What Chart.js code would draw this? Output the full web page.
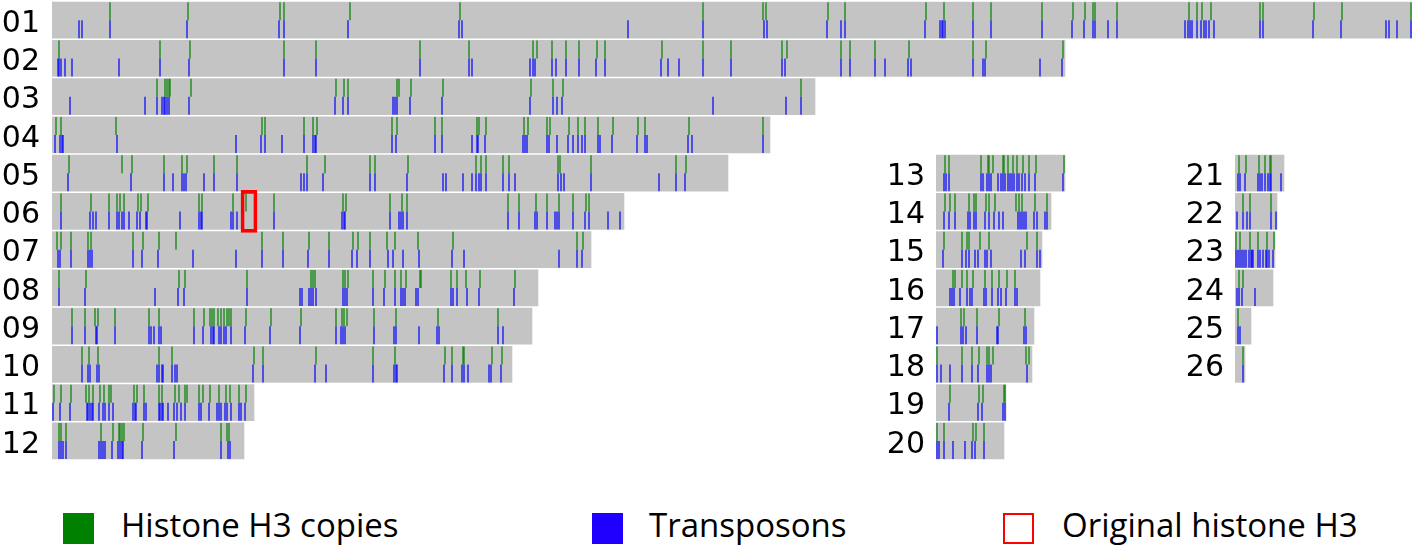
<!DOCTYPE html>
<html><head><meta charset="utf-8">
<script src="https://cdn.jsdelivr.net/npm/chart.js@4.4.1/dist/chart.umd.min.js"></script>
<style>
html,body{margin:0;padding:0;background:#fff;}
#wrap{position:relative;width:1418px;height:550px;overflow:hidden;}
canvas{position:absolute;top:0;}
.sw{position:absolute;top:513px;width:31px;height:31px;box-sizing:border-box;}
.lt{position:absolute;top:507px;height:36px;line-height:36px;font-family:'Open Sans',sans-serif;font-size:33px;color:#000;white-space:nowrap;}
</style></head><body>
<div id="wrap">
  <canvas id="col1" width="1418" height="461" style="left:0px"></canvas>
  <canvas id="col2" width="196" height="461" style="left:880px"></canvas>
  <canvas id="col3" width="115" height="461" style="left:1180px"></canvas>
  <div class="sw" style="left:63px;background:#008000"></div>
  <div class="lt" style="left:121px">Histone H3 copies</div>
  <div class="sw" style="left:592px;background:#1f00ff"></div>
  <div class="lt" style="left:649px">Transposons</div>
  <div class="sw" style="left:1003px;border:2.5px solid #ff0000;background:#fff"></div>
  <div class="lt" style="left:1062px">Original histone H3</div>
</div>
<script>
// ---------- DATA (positions in Mb along each chromosome) ----------
const chromosomes = ['01','02','03','04','05','06','07','08','09','10','11','12','13','14','15','16','17','18','19','20','21','22','23','24','25','26'];
const lengthsMb = [136.0,101.3,76.3,71.8,67.6,57.2,53.9,48.6,48.0,46.0,20.2,19.2,12.9,11.5,10.6,10.4,9.8,9.6,7.0,6.8,4.9,4.2,4.0,3.8,1.6,1.0];

const h3_01 = [5.8,13.6,22.8,23.2,29.8,40.8,65.1,71.1,71.4,77.6,79.3,87.4,89.2,92.1,93.9,99.0,102.1,103.3,104.1,104.3,106.5,113.7,114.5,115.0,115.9,120.8,121.1,126.2,129.0,135.9];
const tp_01 = [2.7,3.0,5.8,13.5,22.7,23.2,29.6,40.7,41.0,57.6,65.1,71.2,71.5,77.5,78.9,79.3,87.3,88.8,89.0,89.1,89.3,92.1,93.9,99.0,102.0,103.2,104.1,104.3,105.6,106.5,113.3,113.6,113.8,114.0,114.5,114.9,115.2,115.4,115.7,116.2,120.8,121.1,126.1,128.9,133.4,133.7,134.5,135.9];
const h3_02 = [0.7,10.8,13.8,23.2,26.4,36.8,41.7,48.1,48.5,50.0,51.4,52.7,54.5,55.3,61.0,65.1,67.9,73.0,73.5,78.9,79.8,82.3,85.7,92.1,93.4,101.1];
const tp_02 = [0.6,0.7,0.9,1.3,2.0,6.7,10.8,13.7,23.2,26.4,36.8,41.7,42.0,47.8,48.1,48.3,50.0,50.4,51.4,52.7,54.4,55.3,60.9,61.6,62.7,65.1,67.9,73.0,73.3,78.9,79.8,82.3,83.3,85.6,85.9,92.1,93.1,93.3,98.8,101.0];
const h3_03 = [10.5,11.3,11.5,11.7,11.8,13.9,28.4,29.2,29.6,34.5,34.7,35.9,39.1,47.9,50.1,51.1,74.9];
const tp_03 = [1.8,9.3,10.5,11.0,11.2,11.3,11.5,11.7,13.7,28.3,29.1,29.6,34.1,34.3,34.5,35.8,39.0,47.8,50.1,50.5,51.0,66.1,73.4,74.9];
const h3_04 = [0.4,0.9,6.4,21.0,21.3,25.2,26.1,26.5,34.0,34.5,38.3,39.0,42.5,42.7,43.4,47.2,47.6,49.5,49.8,51.7,52.6,53.3,54.6,56.1,58.6,59.3,63.7,71.1];
const tp_04 = [0.3,0.8,1.0,1.1,6.5,18.4,20.9,21.3,23.0,25.2,26.1,26.3,26.4,34.0,34.4,38.3,39.0,42.0,42.5,42.6,43.3,47.1,47.3,47.5,49.5,49.7,50.5,51.6,52.1,52.6,53.0,53.3,54.6,54.8,56.0,58.5,59.3,59.5,63.6,64.0,71.1];
const h3_05 = [1.7,7.0,8.0,11.2,13.0,13.5,16.2,18.5,25.5,27.3,31.8,32.3,35.6,42.4,42.9,43.4,45.1,45.7,50.6,50.8,53.9,62.4,63.4];
const tp_05 = [1.6,7.9,11.2,12.1,13.0,13.2,13.4,15.2,16.2,18.5,24.9,25.2,25.5,27.1,31.8,32.3,35.5,39.1,39.4,41.1,42.0,42.4,42.7,42.9,43.4,45.1,45.7,46.3,50.6,50.9,51.2,53.9,60.7,62.4,63.3];
const h3_06 = [0.9,3.9,5.7,6.5,6.8,7.2,8.6,8.9,9.6,14.7,15.0,18.1,19.4,22.2,29.1,29.4,33.8,35.0,35.5,45.6,46.7,48.4,49.5,50.7,52.1,53.4,53.7];
const tp_06 = [0.9,3.8,4.1,4.4,5.7,6.5,6.7,7.0,7.2,7.7,8.5,8.8,9.4,9.5,12.8,14.7,14.9,15.0,17.9,18.1,18.5,22.2,29.0,29.2,29.3,33.8,34.7,34.9,35.1,35.5,45.6,46.7,48.3,48.5,49.5,50.3,50.5,50.7,52.1,53.3,53.7,55.6,56.8];
const h3_07 = [0.5,0.9,1.9,3.6,3.9,8.1,9.1,10.7,12.4,21.0,23.1,25.7,27.7,30.1,30.6,31.8,33.5,34.3,36.6,40.1,52.5,53.1];
const tp_07 = [0.6,0.8,1.9,3.6,3.8,4.0,8.1,9.0,10.6,14.1,18.4,21.0,23.1,25.6,27.7,30.0,30.5,31.8,33.6,34.1,35.1,36.7,40.0,41.2,50.7,52.5,53.0];
const h3_08 = [0.7,3.4,12.7,13.3,19.5,25.9,26.1,26.3,29.1,29.3,29.6,32.1,33.3,34.3,34.9,35.4,36.8,36.9,39.9,40.5,41.4,42.8,46.3];
const tp_08 = [0.7,3.3,10.3,12.6,13.2,19.5,24.8,25.0,25.7,25.9,26.1,26.4,29.1,29.3,29.5,32.1,33.2,34.3,34.9,35.1,35.3,36.4,36.6,39.9,40.1,40.5,41.5,42.7,46.2];
const h3_09 = [2.0,3.3,4.3,4.6,6.3,9.7,10.7,14.2,15.2,15.8,16.0,16.2,16.6,16.9,17.2,17.5,17.7,17.9,19.4,21.9,24.9,28.4,29.0,29.2,29.5,32.2,34.4,38.6,44.6];
const tp_09 = [2.0,3.3,4.4,4.5,6.3,9.7,9.9,10.2,10.7,10.9,14.2,15.1,15.9,16.1,16.2,16.7,16.9,17.2,17.4,17.9,19.3,21.8,24.8,28.4,28.9,29.1,29.3,32.2,34.2,34.4,36.7,38.5,38.7,44.6,45.1];
const h3_10 = [3.0,3.7,4.6,10.7,12.0,20.2,21.1,26.4,32.1,34.3,39.3,40.0,41.1,41.2,44.0,45.0];
const tp_10 = [3.0,3.6,3.8,4.5,4.7,10.5,10.7,11.0,11.1,12.0,12.3,12.5,20.1,21.1,26.3,27.4,32.1,34.2,34.4,34.5,39.2,40.0,41.0,41.2,41.6,43.7,43.9,44.9];
const h3_11 = [0.2,0.9,1.9,3.4,3.7,4.1,4.8,5.2,5.7,5.9,8.2,8.5,9.2,10.7,11.0,12.3,12.7,13.3,13.5,14.7,15.1,15.8,16.7,17.4,17.8,18.7,19.4];
const tp_11 = [0.1,0.8,1.8,3.5,3.6,3.8,4.0,4.1,4.7,5.1,5.3,5.7,6.1,8.1,8.3,8.4,9.2,9.4,10.7,10.8,11.0,11.1,11.6,12.2,12.5,12.9,13.3,14.7,14.9,15.7,16.5,16.7,16.9,17.3,17.5,17.9,18.7,18.9,19.3];
const h3_12 = [0.7,0.9,1.4,4.9,6.1,6.7,6.8,7.0,7.2,9.1,12.4,16.9,17.5,17.7];
const tp_12 = [0.7,0.9,1.1,1.4,4.7,4.9,5.1,5.3,6.0,6.6,6.8,7.0,7.1,9.0,12.2,16.9,17.6,17.8];
const h3_13 = [0.9,1.3,4.5,5.2,5.3,5.7,6.7,6.8,7.2,7.7,8.1,8.7,9.3,10.0,12.8];
const tp_13 = [0.8,1.0,1.3,4.5,4.7,5.1,5.3,5.5,6.2,6.5,6.7,6.9,7.2,7.4,7.6,7.8,8.1,8.3,8.6,8.9,9.3,9.9,12.7];
const h3_14 = [0.9,1.4,1.9,3.3,3.8,4.0,5.0,5.3,5.9,8.0,8.3,8.6,9.9,11.1];
const tp_14 = [0.8,1.3,1.9,3.2,3.4,3.8,4.0,4.9,5.3,5.8,6.3,6.7,8.2,8.4,8.6,8.8,9.0,9.8,10.1,10.9,11.1];
const h3_15 = [0.8,2.6,3.1,3.3,4.4,5.3,9.1,10.1];
const tp_15 = [0.7,2.6,3.0,3.3,3.9,4.2,4.9,5.1,5.5,8.5,8.9,10.1,10.4];
const h3_16 = [1.7,1.9,2.6,3.1,3.7,4.9,5.6,6.3,7.1,7.9];
const tp_16 = [1.4,1.6,1.8,2.4,3.1,3.4,3.6,4.8,5.0,5.6,6.2,6.5,7.0,7.9,8.1];
const h3_17 = [2.5,2.8,4.1,6.3,8.9];
const tp_17 = [0.1,2.5,2.7,3.0,4.1,6.1,6.2,8.8,9.0];
const h3_18 = [0.1,2.6,3.6,4.3,5.1,5.3,5.7,9.0,9.3];
const tp_18 = [0.1,0.5,1.4,2.6,3.6,4.2,5.1,5.3,5.5,9.1];
const h3_19 = [1.4,4.3,4.7,6.8,6.9];
const tp_19 = [1.3,4.2,4.6,6.7,6.9];
const h3_20 = [0.1,0.8,3.7,4.0,4.8];
const tp_20 = [0.1,0.3,0.8,1.7,2.9,3.6,3.9,4.8];
const h3_21 = [0.4,1.1,2.4,3.0,3.5,3.6];
const tp_21 = [0.3,0.5,1.0,2.3,2.5,2.7,3.0,3.3,3.5,3.6,4.6];
const h3_22 = [0.8,1.5,3.6];
const tp_22 = [0.2,0.8,1.2,1.5,3.6,4.1];
const h3_23 = [0.1,0.5,1.5,2.3,3.2,3.9];
const tp_23 = [0.1,0.3,0.5,0.7,0.9,1.1,1.4,1.6,1.7,1.8,2.3,2.5,2.8,3.1,3.2,3.4,3.8];
const h3_24 = [0.4,0.8];
const tp_24 = [0.2,0.4,0.7,2.0];
const h3_25 = [0.3];
const tp_25 = [0.3,0.5];
const h3_26 = [0.8];
const tp_26 = [0.8];

const histoneCopiesByChr = [h3_01,h3_02,h3_03,h3_04,h3_05,h3_06,h3_07,h3_08,h3_09,h3_10,h3_11,h3_12,h3_13,h3_14,h3_15,h3_16,h3_17,h3_18,h3_19,h3_20,h3_21,h3_22,h3_23,h3_24,h3_25,h3_26];
const transposonsByChr = [tp_01,tp_02,tp_03,tp_04,tp_05,tp_06,tp_07,tp_08,tp_09,tp_10,tp_11,tp_12,tp_13,tp_14,tp_15,tp_16,tp_17,tp_18,tp_19,tp_20,tp_21,tp_22,tp_23,tp_24,tp_25,tp_26];

const originalH3Chr = '06';
const originalH3RangeMb = [18.9, 20.5];

// ---------- LAYOUT / STYLE ----------
const columns = [
  {canvasId:'col1', first:0,  count:12, firstRow:0, xMax:136, axisWidth:52, labelPad:12, padRight:6},
  {canvasId:'col2', first:12, count:8,  firstRow:4, xMax:14,  axisWidth:56, labelPad:11, padRight:0},
  {canvasId:'col3', first:20, count:6,  firstRow:4, xMax:6,   axisWidth:55, labelPad:11, padRight:0}
];
const ROWS = 12;
const ROW_PX = 459 / ROWS;
const MARK_RADIUS = 9;
const HALF = MARK_RADIUS / ROW_PX;
const GRAY = '#c4c4c4';
const GREEN = 'rgba(0,128,0,0.6)';
const BLUE = 'rgba(0,0,255,0.6)';

columns.forEach(col => {
  const chrs = chromosomes.slice(col.first, col.first + col.count);
  const rowOf = i => col.firstRow + i;
  const datasets = [
    {
      type:'bar', label:'Chromosome', indexAxis:'y', grouped:false, order:3,
      data: chrs.map((c,i) => ({y: rowOf(i), x: [0, lengthsMb[col.first+i]]})),
      backgroundColor: GRAY, borderWidth:0, barThickness:36
    },
    {
      type:'scatter', label:'Histone H3 copies', order:1,
      data: chrs.flatMap((c,i) => histoneCopiesByChr[col.first+i].map(p => ({x:p, y: rowOf(i) - HALF}))),
      pointStyle:'line', rotation:90, radius:MARK_RADIUS, hoverRadius:MARK_RADIUS,
      borderColor: GREEN, borderWidth:2, backgroundColor: GREEN
    },
    {
      type:'scatter', label:'Transposons', order:2,
      data: chrs.flatMap((c,i) => transposonsByChr[col.first+i].map(p => ({x:p, y: rowOf(i) + HALF}))),
      pointStyle:'line', rotation:90, radius:MARK_RADIUS, hoverRadius:MARK_RADIUS,
      borderColor: BLUE, borderWidth:2, backgroundColor: BLUE
    }
  ];
  const origIdx = chrs.indexOf(originalH3Chr);
  if (origIdx >= 0) {
    datasets.push({
      type:'bar', label:'Original histone H3', indexAxis:'y', grouped:false, order:0,
      data:[{y: rowOf(origIdx), x: originalH3RangeMb}],
      backgroundColor:'rgba(0,0,0,0)', borderColor:'#ff0000', borderWidth:3,
      borderSkipped:false, barThickness:42
    });
  }
  new Chart(document.getElementById(col.canvasId), {
    type:'bar',
    data:{datasets},
    options:{
      responsive:false, animation:false, events:[],
      layout:{autoPadding:false, padding:{top:1,bottom:1,left:0,right:col.padRight}},
      plugins:{legend:{display:false}, tooltip:{enabled:false}},
      scales:{
        x:{
          type:'linear', min:0, max:col.xMax, display:false, offset:false,
          afterFit(axis){ axis.paddingLeft = 0; axis.paddingRight = 0; axis.height = 0; }
        },
        y:{
          type:'linear', min:-0.5, max:ROWS-0.5, reverse:true, offset:false,
          grid:{display:false, drawTicks:false}, border:{display:false},
          afterFit(axis){ axis.width = col.axisWidth; axis.paddingTop = 0; axis.paddingBottom = 0; },
          afterBuildTicks(axis){ axis.ticks = chrs.map((c,i) => ({value: rowOf(i)})); },
          ticks:{
            callback:(v) => chrs[v - col.firstRow],
            font:{family:'DejaVu Sans', size:30}, color:'#000',
            padding:col.labelPad, labelOffset:4, autoSkip:false
          }
        }
      }
    }
  });
});
</script>
</body></html>
